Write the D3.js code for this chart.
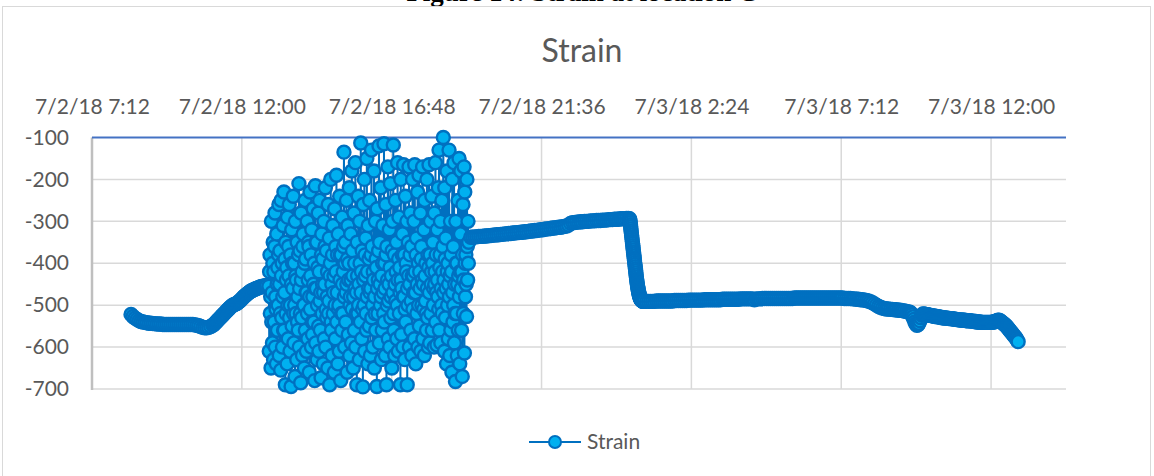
<!DOCTYPE html>
<html lang="en">
<head>
<meta charset="UTF-8">
<title>Strain</title>
<script src="https://cdnjs.cloudflare.com/ajax/libs/d3/7.8.5/d3.min.js"></script>
<style>
    body { margin: 0; background: #fff; }
    text { font-family: Lato, "Open Sans", sans-serif; }
</style>
</head>
<body>
<script>
    // size of the picture and of the plot box
    var w = 1154;
    var h = 476;
    var plotLeft = 92, plotRight = 1066, plotTop = 137.5, plotBottom = 389;

    var parseTime = d3.timeParse("%Y-%m-%d %H:%M");

    var seriesName = "Strain";
    var caption = "Figure 14: Strain at location C";

    // axis range and ticks
    var timeMin = "2018-07-02 07:12", timeMax = "2018-07-03 14:24";
    var tickTimes = ["2018-07-02 07:12", "2018-07-02 12:00", "2018-07-02 16:48", "2018-07-02 21:36",
                     "2018-07-03 02:24", "2018-07-03 07:12", "2018-07-03 12:00"];
    var tickLabels = ["7/2/18 7:12", "7/2/18 12:00", "7/2/18 16:48", "7/2/18 21:36",
                      "7/3/18 2:24", "7/3/18 7:12", "7/3/18 12:00"];
    var yMin = -700, yMax = -100;
    var yTicks = [-100, -200, -300, -400, -500, -600, -700];

    // logged blocks: [start, end] and the readings, spread evenly between them
    var settleTimes = ["2018-07-02 08:27", "2018-07-02 11:04"];
    var settleStrain = [
        -522,-527,-531,-534,-537,-539,-540,-541,-542,-543,
        -543,-544,-544,-545,-545,-545,-546,-546,-546,-546,
        -546,-546,-546,-546,-546,-546,-546,-546,-546,-546,-546,
        -546,-547,-548,-549,-551,-553,-554,-554,-553,-551,-548
    ];

    var riseTimes = ["2018-07-02 11:06", "2018-07-02 12:48"];
    var riseStrain = [
        -546,-544,-541,-539,-536,-534,-531,-529,-526,-524,
        -521,-519,-516,-514,-511,-509,-506,-504,-502,-500,
        -499,-498,-497,-496,-494,-492,-490,-488,-485,-483,
        -480,-478,-476,-474,-472,-470,-468,-467,-465,-464,
        -463,-462,-461,-460,-459,-458,-457,-456,-456,-455,
        -455,-454,-454,-453
    ];

    var swingTimes = ["2018-07-02 12:52", "2018-07-02 19:16"];
    var swingStrain = [
        -455,-610,-420,-380,-520,-480,-650,-300,-540,-470,-590,-400,-350,-630,
        -420,-540,-360,-280,-600,-480,-510,-640,-330,-450,-560,-410,-500,-380,
        -260,-620,-450,-370,-520,-655,-250,-430,-530,-400,-600,-480,-310,-560,
        -230,-560,-470,-390,-690,-350,-520,-440,-410,-640,-290,-500,-580,-360,
        -430,-260,-530,-610,-500,-380,-694,-450,-320,-550,-400,-460,-240,-520,
        -590,-400,-500,-670,-300,-430,-520,-440,-630,-350,-540,-480,-560,-380,
        -210,-600,-460,-370,-520,-685,-280,-440,-530,-420,-620,-360,-330,-500,
        -500,-650,-400,-250,-560,-390,-470,-610,-470,-300,-520,-580,-440,-350,
        -360,-660,-480,-230,-510,-430,-380,-600,-320,-540,-570,-480,-270,-450,
        -540,-400,-680,-460,-215,-590,-350,-460,-350,-630,-500,-410,-280,-550,
        -610,-420,-250,-490,-560,-470,-673,-380,-330,-520,-450,-390,-640,-470,
        -300,-580,-450,-360,-220,-600,-510,-370,-530,-480,-420,-650,-260,-520,
        -490,-340,-690,-430,-400,-200,-540,-560,-450,-620,-380,-310,-520,-470,
        -430,-660,-270,-500,-580,-360,-420,-190,-540,-470,-380,-640,-330,-510,
        -500,-610,-240,-440,-380,-680,-380,-520,-560,-290,-450,-520,-420,-360,
        -135,-480,-600,-400,-350,-540,-470,-250,-450,-660,-390,-310,-570,-440,
        -400,-220,-620,-500,-480,-330,-440,-590,-180,-510,-370,-430,-650,-480,
        -280,-560,-400,-460,-160,-600,-520,-470,-690,-350,-430,-520,-240,-500,
        -450,-630,-300,-400,-540,-113,-470,-420,-580,-370,-510,-695,-260,-440,
        -500,-200,-610,-380,-430,-340,-520,-560,-150,-480,-420,-640,-310,-460,
        -390,-550,-250,-470,-620,-460,-380,-130,-530,-360,-500,-600,-420,-440,
        -180,-650,-480,-520,-300,-560,-390,-410,-694,-270,-460,-520,-440,-370,
        -120,-590,-350,-450,-500,-220,-480,-630,-430,-560,-400,-310,-470,-520,
        -115,-540,-400,-460,-620,-260,-380,-690,-360,-500,-440,-170,-580,-490,
        -450,-320,-600,-410,-210,-530,-480,-430,-650,-370,-300,-470,-118,-520,
        -560,-380,-620,-450,-250,-490,-420,-350,-580,-500,-160,-440,-610,-390,
        -290,-520,-410,-470,-690,-200,-440,-570,-460,-380,-330,-600,-480,-165,
        -480,-380,-630,-510,-240,-540,-400,-420,-300,-690,-460,-500,-350,-430,
        -170,-600,-450,-380,-280,-560,-490,-360,-620,-430,-200,-510,-430,-470,
        -300,-580,-165,-420,-470,-640,-380,-340,-520,-450,-230,-600,-400,-500,
        -190,-550,-420,-460,-280,-610,-390,-360,-500,-440,-170,-580,-450,-510,
        -320,-620,-250,-430,-490,-400,-520,-560,-200,-460,-530,-380,-600,-410,
        -165,-470,-590,-380,-300,-520,-450,-420,-240,-560,-400,-350,-500,-460,
        -600,-280,-450,-420,-160,-540,-380,-470,-595,-320,-440,-480,-220,-510,
        -130,-560,-410,-380,-300,-590,-460,-500,-250,-520,-420,-360,-100,-470,
        -440,-610,-220,-390,-530,-340,-460,-640,-180,-420,-500,-400,-580,-450,
        -130,-480,-620,-430,-300,-560,-380,-420,-660,-200,-470,-540,-360,-500,
        -160,-590,-450,-520,-682,-300,-400,-520,-400,-620,-450,-250,-560,-430,
        -150,-480,-640,-420,-330,-180,-460,-560,-420,-670,-380,-260,-520,-440,
        -170,-614,-230,-400,-480,-380,-450,-527,-200,-360,-440,-300,-400,-350
    ];

    var creepTimes = ["2018-07-02 19:20", "2018-07-03 00:23"];
    var creepStrain = [
        -338,-338,-337,-337,-336,-336,-336,-335,-335,-334,
        -334,-333,-333,-332,-332,-331,-331,-330,-330,-329,
        -329,-328,-328,-327,-327,-326,-326,-325,-325,-324,
        -323,-323,-322,-322,-321,-320,-320,-319,-318,-318,
        -317,-316,-316,-315,-314,-314,-313,-312,-311,-309,
        -305,-303,-303,-302,-302,-301,-301,-300,-300,-300,
        -299,-299,-299,-298,-298,-298,-297,-297,-297,-296,
        -296,-296,-295,-295,-295,-294,-294,-294,-293,-293
    ];

    var dropTimes = ["2018-07-03 00:25", "2018-07-03 00:52"];
    var dropStrain = [
        -294,-296,-299,-303,-308,-313,-318,-323,-328,-333,
        -338,-343,-348,-353,-358,-363,-368,-373,-378,-383,
        -388,-393,-398,-403,-408,-413,-418,-423,-428,-433,
        -438,-442,-446,-450,-454,-458,-461,-464,-467,-470,
        -473,-475,-477,-479,-481,-483,-484,-485,-486,-487,
        -488,-488,-489,-489,-490,-490,-490,-491,-491,-491
    ];

    var plateauTimes = ["2018-07-03 00:54", "2018-07-03 09:21"];
    var plateauStrain = [
        -490,-491,-491,
        -491,-491,-491,-490,-490,-490,-490,-490,-490,-490,
        -490,-490,-489,-489,-489,-489,-489,-489,-489,-488,
        -488,-488,-488,-488,-488,-488,-488,-487,-487,-487,
        -487,-487,-487,-487,-487,-487,-486,-486,-486,-486,
        -486,-486,-486,-486,-486,-485,-485,-485,-485,-485,
        -485,-485,-487,-485,-485,-485,-484,-484,-484,-484,
        -484,-484,-484,-484,-484,-484,-484,-484,-484,-484,
        -484,-484,-483,-483,-483,-483,-483,-483,-483,-483,
        -483,-483,-483,-483,-483,-483,-483,-483,-483,-483,
        -483,-483,-483,-483,-483,-483,-483,-484,-484,-484,
        -484,-485,-485,-486,-486,-487,-487,-488,-489,-490,
        -492,-494,-497,-500,-503,-505,-507,-508,-509,-509,
        -510,-510,-511,-511,-512,-512,-513,-514,-515,-516
    ];

    var dipTimes = ["2018-07-03 09:24", "2018-07-03 12:21"];
    var dipStrain = [
        -517,-519,-523,-528,-534,-540,-545,-548,-547,-543,
        -537,-530,-524,-521,-521,-522,-522,-523,-523,-524,
        -524,-525,-525,-526,-526,-527,-527,-527,-528,-528,
        -529,-529,-530,-530,-530,-531,-531,-531,-531,-532,
        -532,-532,-532,-533,-533,-534,-534,-534,-535,-535,
        -535,-535,-536,-536,-536,-536,-537,-537,-537,-537,
        -537,-538,-538,-538,-539,-539,-539,-540,-540,-540,
        -540,-541,-541,-541,-541,-541,-541,-541,-541,-541,
        -541,-541,-541,-540,-540,-539,-538,-537,-536,-536,
        -537,-539,-541
    ];

    var endTimes = ["2018-07-03 12:23", "2018-07-03 12:52"];
    var endStrain = [
        -543,-545,-547,-549,-552,-555,-558,-561,
        -564,-567,-570,-573,-576,-579,-583,-587
    ];

    function block(times, values) {
        var t0 = parseTime(times[0]).getTime(), t1 = parseTime(times[1]).getTime();
        return values.map(function(v, i) {
            return { date: new Date(t0 + (t1 - t0) * i / (values.length - 1)), value: v };
        });
    }
    var dataset = [].concat(
        block(settleTimes, settleStrain),
        block(riseTimes, riseStrain),
        block(swingTimes, swingStrain),
        block(creepTimes, creepStrain),
        block(dropTimes, dropStrain),
        block(plateauTimes, plateauStrain),
        block(dipTimes, dipStrain),
        block(endTimes, endStrain)
    );

    //scales
    var xScale = d3.scaleTime()
        .domain([parseTime(timeMin), parseTime(timeMax)])
        .range([plotLeft, plotRight]);
    var yScale = d3.scaleLinear()
        .domain([yMin, yMax])
        .range([plotBottom, plotTop]);

    var svg = d3.select("body").append("svg")
        .attr("width", w)
        .attr("height", h);

    // cut-off caption above the chart, then the chart frame
    svg.append("text")
        .attr("x", 582).attr("y", 1)
        .attr("text-anchor", "middle")
        .style("font-family", "'Liberation Serif', serif")
        .attr("font-weight", "bold")
        .attr("font-size", 27)
        .attr("fill", "#000")
        .text(caption);
    svg.append("rect")
        .attr("x", 2.5).attr("y", 6.5)
        .attr("width", 1148).attr("height", 480)
        .attr("fill", "#fff")
        .attr("stroke", "#d9d9d9");

    // title
    svg.append("text")
        .attr("x", 582).attr("y", 62)
        .attr("text-anchor", "middle")
        .attr("font-size", 32)
        .attr("fill", "#595959")
        .text(seriesName);

    // gridlines
    svg.append("g").selectAll("line")
        .data(yTicks.filter(function(d) { return d !== yMax; }))
        .enter().append("line")
        .attr("x1", plotLeft).attr("x2", plotRight)
        .attr("y1", function(d) { return yScale(d); })
        .attr("y2", function(d) { return yScale(d); })
        .attr("stroke", "#d9d9d9").attr("stroke-width", 1.5);
    svg.append("g").selectAll("line")
        .data(tickTimes.slice(1))
        .enter().append("line")
        .attr("x1", function(d) { return xScale(parseTime(d)); })
        .attr("x2", function(d) { return xScale(parseTime(d)); })
        .attr("y1", plotTop).attr("y2", plotBottom)
        .attr("stroke", "#d9d9d9").attr("stroke-width", 1.5);

    // axes
    var xAxis = d3.axisTop(xScale)
        .tickValues(tickTimes.map(parseTime))
        .tickFormat(function(d, i) { return tickLabels[i]; })
        .tickSize(0).tickPadding(23.5);
    var gx = svg.append("g")
        .attr("transform", "translate(0," + plotTop + ")")
        .call(xAxis);
    var yAxis = d3.axisLeft(yScale)
        .tickValues(yTicks)
        .tickFormat(function(d) { return String(d); })
        .tickSize(0).tickPadding(23);
    var gy = svg.append("g")
        .attr("transform", "translate(" + plotLeft + ",0)")
        .call(yAxis);
    [gx, gy].forEach(function(g) {
        g.select(".domain").remove();
        g.attr("font-family", null).attr("font-size", null);
        g.selectAll("text").attr("font-size", 21).attr("fill", "#595959");
    });

    svg.append("line")
        .attr("x1", plotLeft).attr("x2", plotLeft)
        .attr("y1", plotTop).attr("y2", plotBottom + 1)
        .attr("stroke", "#bfbfbf").attr("stroke-width", 2.5);
    svg.append("line")
        .attr("x1", plotLeft).attr("x2", plotRight)
        .attr("y1", plotTop).attr("y2", plotTop)
        .attr("stroke", "#4472c4").attr("stroke-width", 2);

    // series line, markers on top
    var line = d3.line()
        .x(function(d) { return xScale(d.date); })
        .y(function(d) { return yScale(d.value); });
    svg.append("path")
        .datum(dataset)
        .attr("d", line)
        .attr("fill", "none")
        .attr("stroke", "#0070c0")
        .attr("stroke-width", 2)
        .attr("stroke-linejoin", "round");

    svg.append("g").selectAll("circle")
        .data(dataset)
        .enter().append("circle")
        .attr("cx", function(d) { return xScale(d.date); })
        .attr("cy", function(d) { return yScale(d.value); })
        .attr("r", 6.5)
        .attr("fill", "#00b0f0")
        .attr("stroke", "#0070c0")
        .attr("stroke-width", 2.4);

    // legend
    var legend = svg.append("g").attr("transform", "translate(555,442)");
    legend.append("line")
        .attr("x1", -26).attr("x2", 26)
        .attr("stroke", "#0070c0").attr("stroke-width", 1.8);
    legend.append("circle")
        .attr("r", 6)
        .attr("fill", "#00b0f0")
        .attr("stroke", "#0070c0")
        .attr("stroke-width", 2);
    legend.append("text")
        .attr("x", 32).attr("y", 7)
        .attr("font-size", 21)
        .attr("fill", "#595959")
        .text(seriesName);
</script>
</body>
</html>
